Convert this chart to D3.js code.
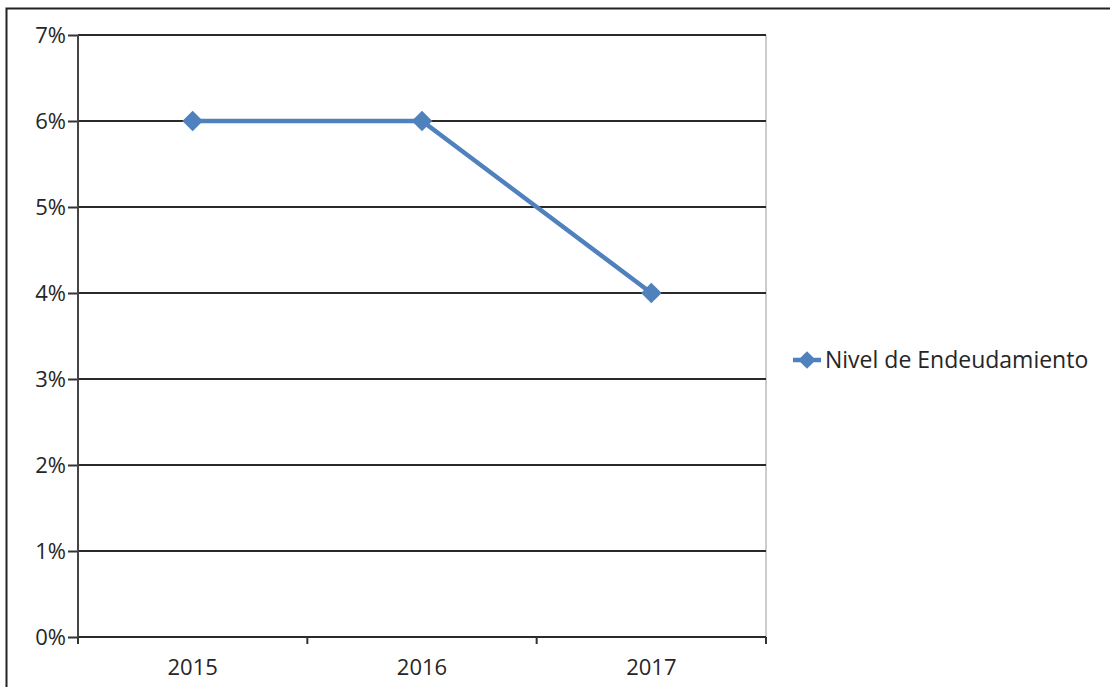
<!DOCTYPE html>
<html>
<head>
<meta charset="utf-8">
<script src="https://cdn.jsdelivr.net/npm/d3@7"></script>
<style>
  body { margin: 0; background: #fff; }
  svg { display: block; }
  .tick-text { font-family: "Open Sans", sans-serif; font-size: 22px; fill: #262626; }
  .legend-text { font-family: "Open Sans", sans-serif; font-size: 23px; fill: #262626; }
</style>
</head>
<body>
<svg id="chart" width="1110" height="687"></svg>
<script>
// data
var years = ['2015', '2016', '2017'];
var nivel = [0.06, 0.06, 0.04];
var yTicks = [0, 0.01, 0.02, 0.03, 0.04, 0.05, 0.06, 0.07];
var seriesName = 'Nivel de Endeudamiento';

var svg = d3.select('#chart');
var m = { left: 78, right: 766, top: 35, bottom: 637 };
var blue = '#4f81bd';

// outer frame
svg.append('rect')
    .attr('x', 6.5).attr('y', 8.5)
    .attr('width', 1110).attr('height', 700)
    .attr('fill', 'none')
    .attr('stroke', '#222')
    .attr('stroke-width', 2);

var x = d3.scaleBand().domain(years).range([m.left, m.right]);
var y = d3.scaleLinear().domain([0, 0.07]).range([m.bottom, m.top]);

// plot area right edge
svg.append('line')
    .attr('x1', m.right).attr('x2', m.right)
    .attr('y1', m.top).attr('y2', m.bottom)
    .attr('stroke', '#bbb').attr('stroke-width', 1.5);

// y axis ticks + labels
var yAxis = svg.append('g')
    .attr('transform', 'translate(' + m.left + ',0)')
    .call(d3.axisLeft(y).tickValues(yTicks).tickFormat(d3.format('.0%'))
        .tickSize(10).tickPadding(2));
yAxis.select('.domain').remove();
yAxis.selectAll('.tick line').attr('stroke', '#333').attr('stroke-width', 2);
yAxis.selectAll('.tick text').attr('class', 'tick-text').attr('font-size', null).attr('font-family', null);

// gridlines
svg.append('g').selectAll('line')
    .data(yTicks)
    .join('line')
    .attr('x1', m.left).attr('x2', m.right)
    .attr('y1', function(d) { return y(d); })
    .attr('y2', function(d) { return y(d); })
    .attr('stroke', '#2a2a2a')
    .attr('stroke-width', 2.2);

// y axis line
svg.append('line')
    .attr('x1', m.left).attr('x2', m.left)
    .attr('y1', m.top).attr('y2', m.bottom + 6)
    .attr('stroke', '#444').attr('stroke-width', 2);

// x axis ticks
svg.append('g').selectAll('line')
    .data(years.concat(['end']))
    .join('line')
    .attr('x1', function(d, i) { return m.left + i * x.bandwidth(); })
    .attr('x2', function(d, i) { return m.left + i * x.bandwidth(); })
    .attr('y1', m.bottom).attr('y2', m.bottom + 7)
    .attr('stroke', '#333').attr('stroke-width', 2);

svg.append('g').selectAll('text')
    .data(years)
    .join('text')
    .attr('class', 'tick-text')
    .attr('x', function(d) { return x(d) + x.bandwidth() / 2; })
    .attr('y', m.bottom + 38)
    .attr('text-anchor', 'middle')
    .text(function(d) { return d; });

// series
var line = d3.line()
    .x(function(d, i) { return x(years[i]) + x.bandwidth() / 2; })
    .y(function(d) { return y(d); });

svg.append('path')
    .datum(nivel)
    .attr('d', line)
    .attr('fill', 'none')
    .attr('stroke', blue)
    .attr('stroke-width', 4.5);

var diamond = d3.symbol().type(d3.symbolDiamond2).size(270);
svg.append('g').selectAll('path')
    .data(nivel)
    .join('path')
    .attr('d', diamond)
    .attr('transform', function(d, i) {
        return 'translate(' + (x(years[i]) + x.bandwidth() / 2) + ',' + y(d) + ')';
    })
    .attr('fill', blue);

// legend
var leg = svg.append('g').attr('transform', 'translate(793,360)');
leg.append('line')
    .attr('x1', 0).attr('x2', 28)
    .attr('stroke', blue).attr('stroke-width', 4.5);
leg.append('path')
    .attr('d', d3.symbol().type(d3.symbolDiamond2).size(200))
    .attr('transform', 'translate(14,0)')
    .attr('fill', blue);
leg.append('text')
    .attr('class', 'legend-text')
    .attr('x', 32).attr('y', 8)
    .text(seriesName);
</script>
</body>
</html>
